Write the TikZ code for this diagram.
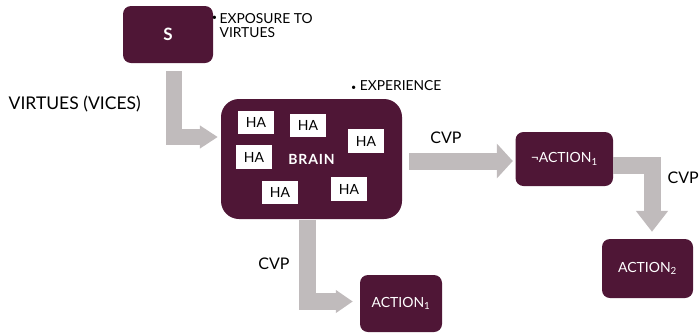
\documentclass[tikz,border=0pt]{standalone}
\usepackage{fontspec}
\setmainfont{Lato}
\usetikzlibrary{arrows.meta}
\definecolor{wine}{RGB}{79,22,54}
\definecolor{flow}{RGB}{192,187,188}
\tikzset{
  box/.style={fill=wine, text=white, rounded corners=8pt, inner sep=0pt,
    font=\fontsize{14}{16}\selectfont},
  ha/.style={fill=white, text=black, minimum width=36pt, minimum height=23.5pt,
    inner sep=0pt, font=\fontsize{14}{16}\selectfont},
  caption/.style={text=black, inner sep=0pt, font=\fontsize{13.8}{14.5}\selectfont},
  bigcaption/.style={caption, font=\fontsize{16}{18}\selectfont},
  flowarrow/.style={draw=flow, line width=17pt, line join=miter},
}
\begin{document}
\begin{tikzpicture}[x=1pt, y=-1pt]
  \useasboundingbox (0,0) rectangle (699,333);
  \clip (0,0) rectangle (699,333);

  % boxes
  \node[box, minimum width=90pt, minimum height=57pt] (s) at (168,34.5)
    {\bfseries\fontsize{17}{19}\selectfont S};
  \node[box, rounded corners=18pt, minimum width=181pt, minimum height=120pt]
    (brain) at (311.5,159) {};
  \node[box, minimum width=97.5pt, minimum height=54pt] (nact) at (564.25,159)
    {\textlnot ACTION\textsubscript{1}};
  \node[box, minimum width=91pt, minimum height=59pt] (a2) at (647.5,268.5)
    {ACTION\textsubscript{2}};
  \node[box, minimum width=82pt, minimum height=57pt] (a1) at (401,303.5)
    {ACTION\textsubscript{1}};

  % contents of the brain
  \node[text=white, inner sep=0pt,
    font=\bfseries\fontsize{14}{16}\selectfont\addfontfeature{LetterSpace=6}]
    (brainlabel) at (311.5,159) {BRAIN};
  \node[ha] (ha1) at (256,122.5) {HA};
  \node[ha] (ha2) at (308,125.5) {HA};
  \node[ha] (ha3) at (366,141) {HA};
  \node[ha] (ha4) at (254,157) {HA};
  \node[ha] (ha5) at (280,192.5) {HA};
  \node[ha] (ha6) at (349,189) {HA};

  % free captions
  \node[caption] (bul1) at (214.5,18) {\fontsize{9}{9}\selectfont •};
  \node[caption, anchor=north west, align=left] (expo) at (219.5,13)
    {EXPOSURE TO\\VIRTUES};
  \node[caption, anchor=west] (expe) at (351,86)
    {{\fontsize{9}{9}\selectfont •} EXPERIENCE};
  \node[bigcaption, anchor=west, font=\fontsize{17.5}{19}\selectfont] (vv) at (8.5,103.5)
    {VIRTUES (VICES)};
  \node[bigcaption] (cvp1) at (446,138) {CVP};
  \node[bigcaption] (cvp2) at (274,264) {CVP};
  \node[bigcaption, anchor=west] (cvp3) at (667.5,178) {CVP};

  % block arrows
  \draw[flowarrow, line width=16pt, -{Triangle[width=22pt,length=18pt]}]
    ([xshift=5.5pt,yshift=-8pt]s.south) |- ([xshift=-3pt,yshift=22pt]brain.west);
  \draw[flowarrow, -{Triangle[width=22pt,length=17pt]}]
    ([xshift=-4pt,yshift=-1pt]brain.south) |- ([xshift=-7pt,yshift=2pt]a1.west);
  \draw[flowarrow, -{Triangle[width=34pt,length=16pt]}]
    ([xshift=7pt,yshift=-2pt]brain.east) -- ([xshift=-2.5pt,yshift=-2pt]nact.west);
  \draw[flowarrow, -{Triangle[width=31pt,length=21pt]}]
    ([yshift=-6.5pt]nact.east) -| ([xshift=4.5pt,yshift=7pt]a2.north);
\end{tikzpicture}
\end{document}
